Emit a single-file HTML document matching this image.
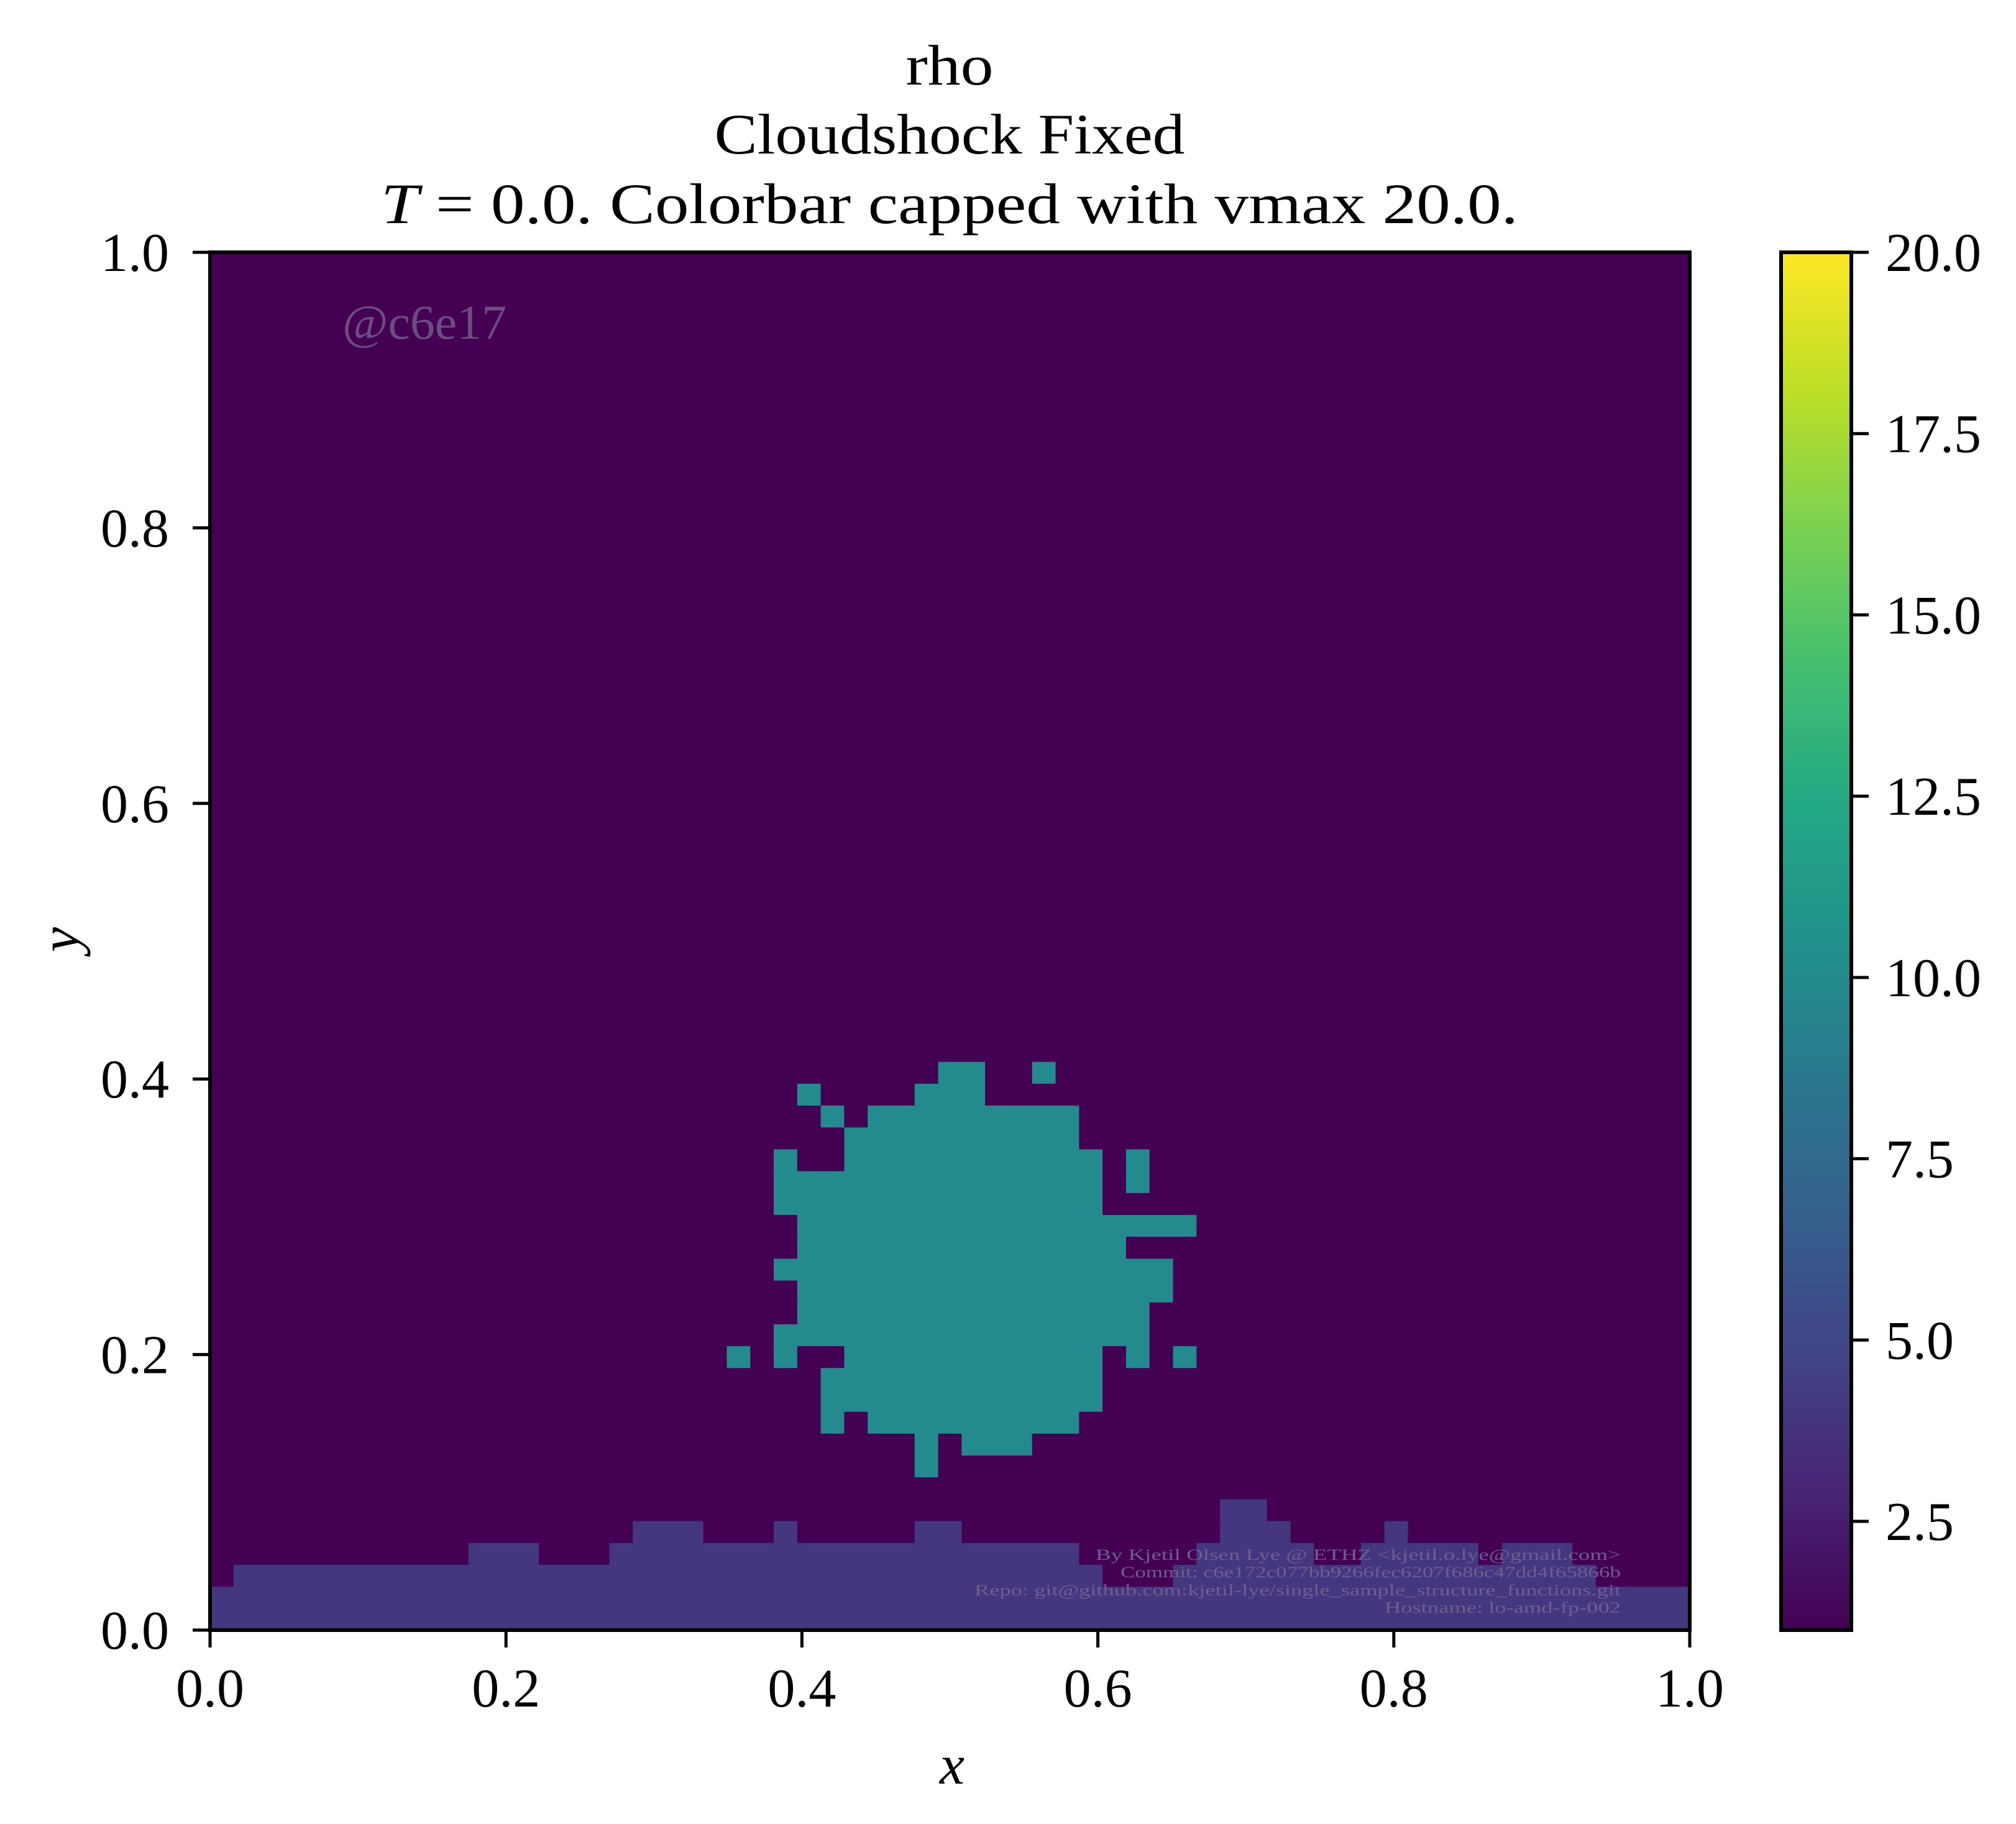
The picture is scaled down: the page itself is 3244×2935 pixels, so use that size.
<!DOCTYPE html>
<html><head><meta charset="utf-8"><style>
html,body{margin:0;padding:0;background:#fff;}
svg{display:block;}
text{font-family:"Liberation Serif",serif;fill:#000;}
</style></head><body>
<svg id="fig" width="3244" height="2935" viewBox="0 0 3244 2935" xmlns="http://www.w3.org/2000/svg">
<rect width="3244" height="2935" fill="#fff"/>
<g id="title" font-size="92" text-anchor="middle">
<text x="1528" y="136" textLength="141" lengthAdjust="spacingAndGlyphs">rho</text>
<text x="1528" y="247" textLength="757" lengthAdjust="spacingAndGlyphs">Cloudshock Fixed</text>
<text x="1528" y="359" textLength="1830" lengthAdjust="spacingAndGlyphs"><tspan font-style="italic">T</tspan> = 0.0. Colorbar capped with vmax 20.0.</text>
</g>
<g id="heat"></g>
<text x="551" y="545" font-size="78" style="fill:#6b4d80" textLength="264" lengthAdjust="spacingAndGlyphs">@c6e17</text>
<g font-size="25" text-anchor="end" style="fill:#6e5e8e">
<text x="2608" y="2510" style="fill:#6e5e8e" textLength="845" lengthAdjust="spacingAndGlyphs">By Kjetil Olsen Lye @ ETHZ &lt;kjetil.o.lye@gmail.com&gt;</text>
<text x="2608" y="2538" style="fill:#6e5e8e" textLength="805" lengthAdjust="spacingAndGlyphs">Commit: c6e172c077bb9266fec6207f686c47dd4f65866b</text>
<text x="2608" y="2567" style="fill:#6e5e8e" textLength="1040" lengthAdjust="spacingAndGlyphs">Repo: git@github.com:kjetil-lye/single_sample_structure_functions.git</text>
<text x="2608" y="2595" style="fill:#6e5e8e" textLength="380" lengthAdjust="spacingAndGlyphs">Hostname: lo-amd-fp-002</text>
</g>
<rect x="338" y="406" width="2381" height="2217" fill="none" stroke="#000" stroke-width="6"/>
<g id="axes"></g>
<text x="1532" y="2870" font-size="90" font-style="italic" text-anchor="middle">x</text>
<text x="0" y="0" font-size="90" font-style="italic" text-anchor="middle" transform="translate(126,1512) rotate(-90)">y</text>
<defs><linearGradient id="vir" x1="0" y1="1" x2="0" y2="0"></linearGradient></defs>
<g id="cbar"></g>
</svg>
<script>
// ---- data ----
const nCells = 63;
const bgValue = 1.0;
const stripValue = 4.0;
const blobValue = 10.0;
const vmin = 1.0;
const vmax = 20.0;
// height (in cells) of bottom strip for each column 0..62
const stripHeights = [2,3,3,3,3,3,3,3,3,3,3,4,4,4,3,3,3,4,5,5,5,4,4,4,5,4,4,4,4,4,5,5,4,4,4,4,4,3,2,2,2,3,4,6,6,5,4,3,3,4,5,4,4,4,3,4,4,4,3,2,2,2,2];
// blob runs: [rowFromBottom, colStart, colEnd]
const blobRuns = [
[25,31,32],[25,35,35],
[24,25,25],[24,30,32],
[23,26,26],[23,28,36],
[22,27,36],
[21,24,24],[21,27,37],[21,39,39],
[20,24,37],[20,39,39],
[19,24,37],
[18,25,41],
[17,25,38],
[16,24,40],
[15,25,40],
[14,25,39],
[13,24,39],
[12,22,22],[12,24,24],[12,27,37],[12,39,39],[12,41,41],
[11,26,37],
[10,26,37],
[9,26,26],[9,28,36],
[8,30,30],[8,32,34],
[7,30,30]
];
const xTicks = [0.0,0.2,0.4,0.6,0.8,1.0];
const xTickLabels = ["0.0","0.2","0.4","0.6","0.8","1.0"];
const yTicks = [0.0,0.2,0.4,0.6,0.8,1.0];
const yTickLabels = ["0.0","0.2","0.4","0.6","0.8","1.0"];
const cbTicks = [2.5,5.0,7.5,10.0,12.5,15.0,17.5,20.0];
const cbTickLabels = ["2.5","5.0","7.5","10.0","12.5","15.0","17.5","20.0"];

// ---- layout ----
const X0=338, X1=2719, Y0=406, Y1=2623;
const NS="http://www.w3.org/2000/svg";
const sx = v => X0 + v*(X1-X0);
const sy = v => Y1 - v*(Y1-Y0);
const vir = [[0,"#440154"],[0.1,"#482475"],[0.2,"#414487"],[0.3,"#355f8d"],[0.4,"#2a788e"],[0.5,"#21918c"],[0.6,"#22a884"],[0.7,"#44bf70"],[0.8,"#7ad151"],[0.9,"#bddf26"],[1,"#fde725"]];
function hex(h){return [1,3,5].map(i=>parseInt(h.substr(i,2),16));}
function viridis(v){
  let t=Math.max(0,Math.min(1,(v-vmin)/(vmax-vmin)));
  for(let i=0;i<vir.length-1;i++){
    if(t<=vir[i+1][0]){
      const f=(t-vir[i][0])/(vir[i+1][0]-vir[i][0]);
      const a=hex(vir[i][1]),b=hex(vir[i+1][1]);
      return "rgb("+a.map((c,k)=>Math.round(c+(b[k]-c)*f)).join(",")+")";
    }
  }
  return vir[vir.length-1][1];
}
function mk(tag,attrs,parent){const e=document.createElementNS(NS,tag);for(const k in attrs)e.setAttribute(k,attrs[k]);parent.appendChild(e);return e;}

// build field
const field=[];
for(let j=0;j<nCells;j++){field.push(new Array(nCells).fill(bgValue));}
for(let i=0;i<nCells;i++){for(let j=0;j<stripHeights[i];j++)field[j][i]=stripValue;}
for(const r of blobRuns){for(let i=r[1];i<=r[2];i++)field[r[0]][i]=blobValue;}

const heat=document.getElementById('heat');
for(let j=0;j<nCells;j++){
  let i=0;
  while(i<nCells){
    let k=i; while(k+1<nCells && field[j][k+1]===field[j][i]) k++;
    const x0=sx(i/nCells), x1=sx((k+1)/nCells), ya=sy((j+1)/nCells), yb=sy(j/nCells);
    const r=mk('rect',{x:x0.toFixed(2),y:ya.toFixed(2),width:(x1-x0+0.6).toFixed(2),height:(yb-ya+0.6).toFixed(2),fill:viridis(field[j][i])},heat);
    
    
    i=k+1;
  }
}

const axes=document.getElementById('axes');
xTicks.forEach((t,n)=>{
  const x=sx(t);
  const l=mk('line',{x1:x,y1:Y1,x2:x,y2:Y1+28,stroke:"#000","stroke-width":5},axes);
  
  
  const tx=mk('text',{x:x,y:2746,"font-size":88,"text-anchor":"middle"},axes);
  tx.textContent=xTickLabels[n];
  
  
});
yTicks.forEach((t,n)=>{
  const y=sy(t);
  const l=mk('line',{x1:X0-28,y1:y,x2:X0,y2:y,stroke:"#000","stroke-width":5},axes);
  
  
  const tx=mk('text',{x:272,y:y+30,"font-size":88,"text-anchor":"end"},axes);
  tx.textContent=yTickLabels[n];
  
  
});

// colorbar
const CX0=2866, CX1=2979;
const cy = v => Y1 - (v-vmin)/(vmax-vmin)*(Y1-Y0);
const grad=document.getElementById('vir');
vir.forEach(s=>mk('stop',{offset:s[0],"stop-color":s[1]},grad));
const cb=document.getElementById('cbar');
const cr=mk('rect',{x:CX0,y:Y0,width:CX1-CX0,height:Y1-Y0,fill:"url(#vir)",stroke:"#000","stroke-width":6},cb);


cbTicks.forEach((t,n)=>{
  const y=cy(t);
  const l=mk('line',{x1:CX1,y1:y,x2:CX1+28,y2:y,stroke:"#000","stroke-width":5},cb);
  
  
  const tx=mk('text',{x:3034,y:y+30,"font-size":88},cb);
  tx.textContent=cbTickLabels[n];
  
  
});
</script>
</body></html>
